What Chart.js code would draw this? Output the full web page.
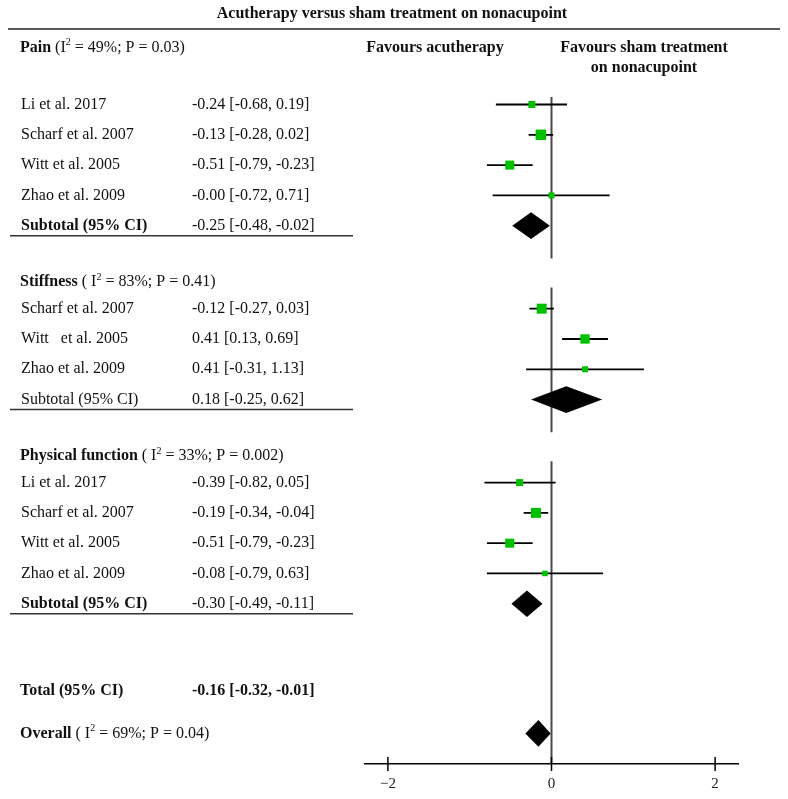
<!DOCTYPE html>
<html>
<head>
<meta charset="utf-8">
<script src="https://cdn.jsdelivr.net/npm/chart.js@4.4.0/dist/chart.umd.min.js"></script>
<style>
  html, body { margin: 0; padding: 0; background: #fff; }
</style>
</head>
<body>
<canvas id="forest" width="788" height="799"></canvas>
<script>
// --- data ---
const chartTitle = 'Acutherapy versus sham treatment on nonacupoint';
const favLeft = ['Favours acutherapy'];
const favRight = ['Favours sham treatment', 'on nonacupoint'];

const sectionNames = ['Pain', 'Stiffness', 'Physical function'];
const sectionI2 = [49, 83, 33];
const sectionP = ['0.03', '0.41', '0.002'];

const painStudies = ['Li et al. 2017', 'Scharf et al. 2007', 'Witt et al. 2005', 'Zhao et al. 2009'];
const painMean = [-0.24, -0.13, -0.51, -0];
const painLow = [-0.68, -0.28, -0.79, -0.72];
const painHigh = [0.19, 0.02, -0.23, 0.71];
const painWeight = [19, 43, 32, 14];

const stiffStudies = ['Scharf et al. 2007', 'Witt   et al. 2005', 'Zhao et al. 2009'];
const stiffMean = [-0.12, 0.41, 0.41];
const stiffLow = [-0.27, 0.13, -0.31];
const stiffHigh = [0.03, 0.69, 1.13];
const stiffWeight = [39, 34, 14];

const physStudies = ['Li et al. 2017', 'Scharf et al. 2007', 'Witt et al. 2005', 'Zhao et al. 2009'];
const physMean = [-0.39, -0.19, -0.51, -0.08];
const physLow = [-0.82, -0.34, -0.79, -0.79];
const physHigh = [0.05, -0.04, -0.23, 0.63];
const physWeight = [19, 39, 32, 12];

const subMean = [-0.25, 0.18, -0.30];
const subLow = [-0.48, -0.25, -0.49];
const subHigh = [-0.02, 0.62, -0.11];

const totalMean = -0.16, totalLow = -0.32, totalHigh = -0.01;
const overallI2 = 69, overallP = '0.04';

const xTicks = [-2, 0, 2];

// --- row layout (y scale is in row units, top to bottom) ---
const sections = [
  { studies: painStudies, mean: painMean, low: painLow, high: painHigh, weight: painWeight },
  { studies: stiffStudies, mean: stiffMean, low: stiffLow, high: stiffHigh, weight: stiffWeight },
  { studies: physStudies, mean: physMean, low: physLow, high: physHigh, weight: physWeight }
];
const subBold = [true, false, true];

let row = 0;
sections.forEach((s, i) => {
  if (i === 0) { s.headerRow = -1.88; s.firstRow = 0; }
  else { s.headerRow = row + 1.53; s.firstRow = s.headerRow + 0.88; }
  s.rows = s.studies.map((_, j) => s.firstRow + j);
  s.subRow = s.firstRow + s.studies.length;
  s.lineRow = s.subRow + 0.33;
  row = s.lineRow;
});
const totalRow = row + 2.55;
const overallRow = totalRow + 1.4;
const yMin = -3.45, yMax = 21.77;

function fmt(v) {
  const neg = v < 0 || Object.is(v, -0);
  return (neg ? '-' : '') + Math.abs(v).toFixed(2);
}
function ciText(m, l, h) { return fmt(m) + ' [' + fmt(l) + ', ' + fmt(h) + ']'; }

// --- datasets ---
const squares = [], squareRadius = [], ciLines = [], zeroLine = [];
sections.forEach((s, i) => {
  s.rows.forEach((r, j) => {
    squares.push({ x: s.mean[j], y: r });
    squareRadius.push(1.6 * Math.sqrt(s.weight[j]) / Math.SQRT2);
    ciLines.push({ x: s.low[j], y: r }, { x: s.high[j], y: r }, { x: NaN, y: r });
  });
  const start = i === 0 ? s.firstRow - 0.25 : s.headerRow + 0.18;
  const end = i === sections.length - 1 ? yMax : s.subRow + 1.08;
  zeroLine.push({ x: 0, y: start }, { x: 0, y: end }, { x: NaN, y: end });
});

const SERIF = '"Liberation Serif", "DejaVu Serif", serif';
const FS = 16;

const diamonds = sections.map((s, i) => ({ m: subMean[i], l: subLow[i], h: subHigh[i], r: s.subRow }))
  .concat([{ m: totalMean, l: totalLow, h: totalHigh, r: overallRow }]);

const forestPlugin = {
  id: 'forestText',
  afterDatasetsDraw(chart) {
    const ctx = chart.ctx, xs = chart.scales.x, ys = chart.scales.y;
    const half = ys.getPixelForValue(0.44) - ys.getPixelForValue(0);
    ctx.save();
    ctx.fillStyle = '#000';
    diamonds.forEach(d => {
      const y = ys.getPixelForValue(d.r);
      ctx.beginPath();
      ctx.moveTo(xs.getPixelForValue(d.l), y);
      ctx.lineTo(xs.getPixelForValue(d.m), y - half);
      ctx.lineTo(xs.getPixelForValue(d.h), y);
      ctx.lineTo(xs.getPixelForValue(d.m), y + half);
      ctx.closePath();
      ctx.fill();
    });
    // tick marks crossing the x axis
    ctx.strokeStyle = '#000';
    ctx.lineWidth = 1.5;
    const bottom = chart.chartArea.bottom;
    xTicks.forEach(v => {
      const x = xs.getPixelForValue(v);
      ctx.beginPath();
      ctx.moveTo(x, bottom - 7);
      ctx.lineTo(x, bottom + 7);
      ctx.stroke();
    });
    ctx.restore();
  },
  afterDraw(chart) {
    const ctx = chart.ctx, ys = chart.scales.y;
    const py = r => ys.getPixelForValue(r);
    ctx.save();
    ctx.textBaseline = 'middle';
    ctx.fillStyle = '#111';

    function rich(segs, x, y) {
      segs.forEach(s => {
        ctx.font = (s.b ? 'bold ' : '') + (s.sup ? '10px ' : FS + 'px ') + SERIF;
        ctx.fillText(s.t, x, s.sup ? y - 5 : y);
        x += ctx.measureText(s.t).width;
      });
    }
    function center(t, x, y, bold) {
      ctx.font = (bold ? 'bold ' : '') + FS + 'px ' + SERIF;
      ctx.textAlign = 'center';
      ctx.fillText(t, x, y);
      ctx.textAlign = 'left';
    }

    // title and rule
    center(chartTitle, 392, 14, true);
    ctx.strokeStyle = '#222';
    ctx.lineWidth = 1.5;
    ctx.beginPath(); ctx.moveTo(8, 29); ctx.lineTo(780, 29); ctx.stroke();

    // favours headers
    const hy = py(sections[0].headerRow);
    favLeft.forEach((t, i) => center(t, 435, hy + i * 20, true));
    favRight.forEach((t, i) => center(t, 644, hy + i * 20, true));

    sections.forEach((s, i) => {
      rich([{ t: sectionNames[i], b: true }, { t: i === 0 ? ' (I' : ' ( I' }, { t: '2', sup: true },
            { t: ' = ' + sectionI2[i] + '%; P = ' + sectionP[i] + ')' }], 20, py(s.headerRow));
      s.studies.forEach((name, j) => {
        rich([{ t: name }], 21, py(s.rows[j]));
        rich([{ t: ciText(s.mean[j], s.low[j], s.high[j]) }], 192, py(s.rows[j]));
      });
      rich([{ t: 'Subtotal (95% CI)', b: subBold[i] }], 21, py(s.subRow));
      rich([{ t: ciText(subMean[i], subLow[i], subHigh[i]) }], 192, py(s.subRow));
      ctx.strokeStyle = '#333';
      ctx.beginPath(); ctx.moveTo(10, py(s.lineRow)); ctx.lineTo(353, py(s.lineRow)); ctx.stroke();
    });

    rich([{ t: 'Total (95% CI)', b: true }], 20, py(totalRow));
    rich([{ t: ciText(totalMean, totalLow, totalHigh), b: true }], 192, py(totalRow));
    rich([{ t: 'Overall', b: true }, { t: ' ( I' }, { t: '2', sup: true },
          { t: ' = ' + overallI2 + '%; P = ' + overallP + ')' }], 20, py(overallRow));
    ctx.restore();
  }
};

new Chart(document.getElementById('forest').getContext('2d'), {
  type: 'scatter',
  data: {
    datasets: [
      {
        label: 'Study estimate',
        data: squares,
        pointStyle: 'rect',
        pointRadius: squareRadius,
        pointHoverRadius: squareRadius,
        backgroundColor: '#00c000',
        borderColor: '#00c000',
        borderWidth: 0,
        order: 0
      },
      {
        label: '95% CI',
        data: ciLines,
        showLine: true,
        spanGaps: false,
        pointRadius: 0,
        borderColor: '#000',
        borderWidth: 1.8,
        order: 1
      },
      {
        label: 'No effect',
        data: zeroLine,
        showLine: true,
        spanGaps: false,
        pointRadius: 0,
        borderColor: '#4a4a4a',
        borderWidth: 2,
        order: 2
      }
    ]
  },
  options: {
    responsive: false,
    devicePixelRatio: 1,
    animation: false,
    layout: { autoPadding: false, padding: { left: 365, right: 50, top: 0, bottom: -5 } },
    plugins: { legend: { display: false }, tooltip: { enabled: false } },
    scales: {
      x: {
        type: 'linear',
        min: -2.28,
        max: 2.28,
        afterBuildTicks: s => { s.ticks = xTicks.map(v => ({ value: v })); },
        grid: { display: false, drawTicks: false },
        border: { display: true, color: '#000', width: 1.5 },
        ticks: {
          padding: 11,
          color: '#222',
          maxRotation: 0,
          autoSkip: false,
          font: { family: SERIF, size: 15 },
          callback: v => v < 0 ? '\u2212' + Math.abs(v) : String(v)
        }
      },
      y: {
        type: 'linear',
        reverse: true,
        min: yMin,
        max: yMax,
        display: false
      }
    }
  },
  plugins: [forestPlugin]
});
</script>
</body>
</html>
